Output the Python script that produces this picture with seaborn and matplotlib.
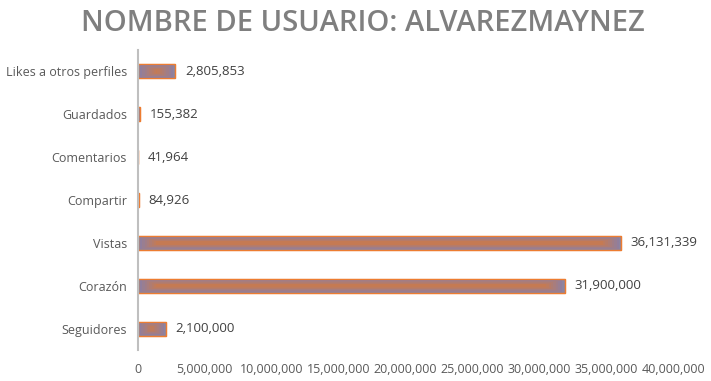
import numpy as np
import seaborn as sns
import matplotlib.pyplot as plt
from matplotlib.colors import to_rgb
from matplotlib.ticker import FuncFormatter

categories = ["Likes a otros perfiles", "Guardados", "Comentarios", "Compartir",
              "Vistas", "Corazón", "Seguidores"]
values = [2805853, 155382, 41964, 84926, 36131339, 31900000, 2100000]
xticks = [0, 5000000, 10000000, 15000000, 20000000, 25000000, 30000000, 35000000, 40000000]

sns.set_style("white")
plt.rcParams['font.family'] = ['Open Sans', 'DejaVu Sans']

fig = plt.figure(figsize=(7.11, 3.81), dpi=100)
ax = fig.add_axes([0.194, 0.081, 0.7526, 0.788])

sns.barplot(x=values, y=categories, orient="h", width=0.33,
            color="#8A7FA6", edgecolor="#ED7D31", linewidth=0.9, ax=ax)

# soft fill: nested rectangles going from purple-grey at the edge to orange inside
purple = np.array(to_rgb("#8A7FA6"))
orange = np.array(to_rgb("#C57A53"))
steps = 8
bars = list(ax.patches)
for p in bars:
    x0, y0 = p.get_x(), p.get_y()
    w, h = p.get_width(), p.get_height()
    for k in range(1, steps + 1):
        t = k / steps
        ix = min(k * 0.17e6, w / 2 * t)
        iy = min(k * 0.016, abs(h) / 2 * 0.9)
        if w - 2 * ix <= 0:
            break
        c = purple + (orange - purple) * t
        ax.add_patch(plt.Rectangle((x0 + ix, y0 + iy), w - 2 * ix, h - 2 * iy,
                                   facecolor=c, edgecolor="none",
                                   zorder=p.get_zorder() + 0.01 * k))
    ax.add_patch(plt.Rectangle((x0, y0), w, h, fill=False, edgecolor="#ED7D31",
                               linewidth=0.9, zorder=p.get_zorder() + 0.5))

for i, v in enumerate(values):
    ax.text(v + 700000, i, f"{v:,}", va="center", ha="left", fontsize=9.5, color="#404040")

ax.set_xlim(0, 40000000)
ax.set_ylim(6.5, -0.5)
ax.set_xticks(xticks)
ax.xaxis.set_major_formatter(FuncFormatter(lambda v, p: f"{int(v):,}"))
ax.tick_params(axis="x", length=0, pad=9, labelsize=9, labelcolor="#595959")
ax.tick_params(axis="y", length=0, pad=8, labelsize=9, labelcolor="#595959")
ax.set_xlabel("")
ax.set_ylabel("")
for s in ["top", "right", "bottom"]:
    ax.spines[s].set_visible(False)
ax.spines["left"].set_color("#BFBFBF")
ax.spines["left"].set_linewidth(1.5)

fig.text(0.51, 0.938, "NOMBRE DE USUARIO: ALVAREZMAYNEZ", ha="center", va="center",
         fontsize=21, fontweight="semibold", color="#7F7F7F")

fig.savefig("out.png", dpi=100)
